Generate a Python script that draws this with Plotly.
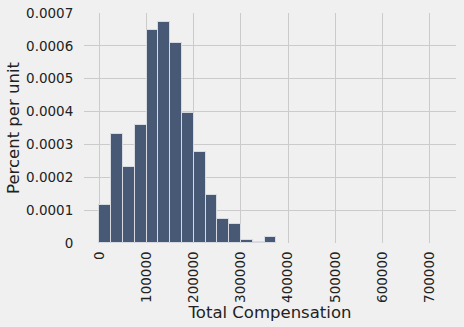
import plotly.graph_objects as go

bin_width = 25000
bin_left = [0, 25000, 50000, 75000, 100000, 125000, 150000, 175000,
            200000, 225000, 250000, 275000, 300000, 325000, 350000]
density = [0.000117, 0.000333, 0.000230, 0.000358, 0.000647, 0.000672,
           0.000608, 0.000397, 0.000278, 0.000147, 0.000074, 0.000059,
           0.000010, 0.000004, 0.000019]
x_ticks = [0, 100000, 200000, 300000, 400000, 500000, 600000, 700000]
y_ticks = [0, 0.0001, 0.0002, 0.0003, 0.0004, 0.0005, 0.0006, 0.0007]

fig = go.Figure()
fig.add_trace(go.Bar(
    x=bin_left, y=density, width=bin_width, offset=0,
    marker=dict(color="rgb(71,89,117)",
                line=dict(color="rgba(215,218,224,1)", width=1)),
))

font = "DejaVu Sans"
fig.update_layout(
    width=464, height=327,
    margin=dict(l=84, r=8, t=13, b=84, autoexpand=False),
    paper_bgcolor="#f0f0f0", plot_bgcolor="#f0f0f0",
    showlegend=False, bargap=0,
    font=dict(family=font, color="#222222"),
)
fig.update_xaxes(
    range=[-32400, 755700], tickvals=x_ticks, automargin=False,
    ticktext=[str(v) for v in x_ticks], tickangle=-90,
    showgrid=True, gridcolor="#cbcbcb", gridwidth=1,
    zeroline=False, showline=False, ticks="outside", ticklen=2, tickcolor="rgba(0,0,0,0)",
    tickfont=dict(size=13.5, family=font),
    title=dict(text="Total Compensation", font=dict(size=16.5, family=font), standoff=0),
)
fig.update_yaxes(
    range=[0, 0.00070001], tickvals=y_ticks, automargin=False,
    ticktext=["0", "0.0001", "0.0002", "0.0003", "0.0004", "0.0005", "0.0006", "0.0007"],
    showgrid=True, gridcolor="#cbcbcb", gridwidth=1,
    zeroline=False, showline=False, ticks="outside", ticklen=7, tickcolor="rgba(0,0,0,0)",
    tickfont=dict(size=13.5, family=font), ticklabeloverflow="allow",
    title=dict(text="Percent per unit", font=dict(size=16.5, family=font), standoff=2),
)
fig.write_html("out.html", post_script="document.body.style.margin='0';",
               config={"displayModeBar": False})
